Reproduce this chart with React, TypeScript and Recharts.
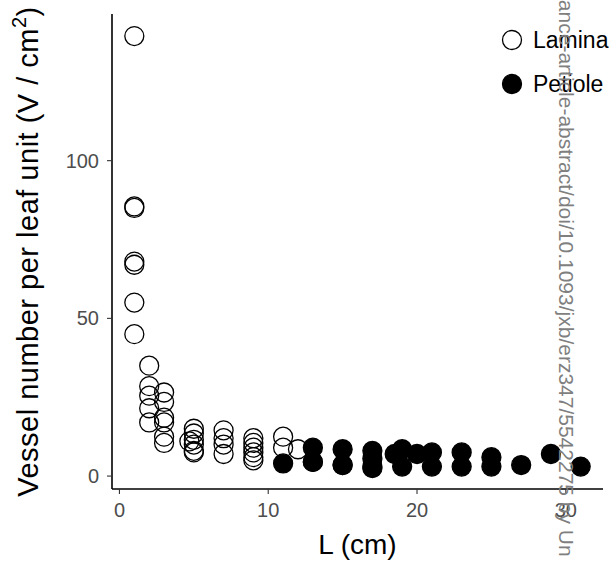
import React from 'react';
import { ScatterChart, Scatter, XAxis, YAxis, Legend } from 'recharts';

// leaf length L (cm) and vessel number per leaf unit (V/cm2)
const laminaL = [
  1, 1, 1, 1, 1, 1, 1,
  2, 2, 2, 2, 2,
  3, 3, 3, 3, 3, 3,
  5, 5, 5, 5, 5, 5, 4.7,
  7, 7, 7, 7,
  9, 9, 9, 9, 9, 9,
  11, 11, 12, 13, 15, 17,
];
const laminaV = [
  139.5, 85.5, 85, 68, 67, 55, 45,
  35, 28.5, 25.5, 21.5, 17,
  26.5, 23.5, 18.5, 17, 12.5, 10.5,
  15, 13.5, 11.5, 10, 8, 7.5, 11,
  14.5, 12, 10, 7,
  12, 10.5, 9, 7.5, 6, 5,
  12.5, 9, 8.5, 4.5, 3.5, 3,
];

const petioleL = [11, 13, 13, 15, 15, 17, 17, 17, 18.5, 19, 19, 20, 21, 21, 23, 23, 25, 25, 27, 29, 31];
const petioleV = [4, 9, 4.5, 8.5, 3.5, 8, 5.5, 2.5, 7, 8.5, 3, 7, 7.5, 3, 7.5, 3, 6, 3, 3.5, 7, 3];

const xTicks = [0, 10, 20, 30];
const yTicks = [0, 50, 100];

const lamina = laminaL.map((l, i) => ({ l, v: laminaV[i] }));
const petiole = petioleL.map((l, i) => ({ l, v: petioleV[i] }));

const FONT = '"Liberation Sans", Arial, sans-serif';
const R = 9.5;

const openDot = (p: any) => (
  <circle cx={p.cx} cy={p.cy} r={R} fill="none" stroke="#000" strokeWidth={1.3} />
);
const filledDot = (p: any) => (
  <circle cx={p.cx} cy={p.cy} r={R} fill="#000" stroke="#000" strokeWidth={1.3} />
);

const renderLegend = (props: any) => {
  const items = props.payload || [];
  return (
    <svg width={120} height={90} style={{ display: 'block' }}>
      {items.map((it: any, i: number) => (
        <g key={it.value}>
          <circle
            cx={17}
            cy={16 + i * 44}
            r={R}
            fill={i === 0 ? 'none' : '#000'}
            stroke="#000"
            strokeWidth={1.3}
          />
          <text x={38} y={24 + i * 44} fontFamily={FONT} fontSize={23} fill="#000">
            {it.value}
          </text>
        </g>
      ))}
    </svg>
  );
};

const YTitle = (props: any) => {
  const vb = props.viewBox || { x: 0, y: 14, width: 112, height: 475 };
  const cx = vb.x + 38;
  const cy = vb.y + vb.height / 2;
  return (
    <text
      x={cx}
      y={cy}
      transform={`rotate(-90, ${cx}, ${cy})`}
      textAnchor="middle"
      fontFamily={FONT}
      fontSize={29}
      letterSpacing={0.5}
      fill="#000"
    >
      Vessel number per leaf unit (V / cm
      <tspan dy={-12} fontSize={20}>2</tspan>
      <tspan dy={12}>)</tspan>
    </text>
  );
};

const XTitle = (props: any) => {
  const vb = props.viewBox || { x: 112, y: 489, width: 491, height: 74 };
  return (
    <text
      x={vb.x + vb.width / 2}
      y={vb.y + 65}
      textAnchor="middle"
      fontFamily={FONT}
      fontSize={28}
      fill="#000"
    >
      L (cm)
    </text>
  );
};

export default function App() {
  return (
    <div style={{ position: 'absolute', left: 0, top: 0, width: 615, height: 563, background: '#fff' }}>
      <ScatterChart width={615} height={563} margin={{ top: 14, right: 12, left: 0, bottom: 0 }}>
        <XAxis
          type="number"
          dataKey="l"
          domain={[-0.5, 32.5]}
          ticks={xTicks}
          allowDataOverflow
          height={74}
          axisLine={{ stroke: '#000', strokeWidth: 1.6 }}
          tickLine={{ stroke: '#333', strokeWidth: 1.1 }}
          tickSize={5}
          tickMargin={9}
          tick={{ fill: '#4d4d4d', fontSize: 20, fontFamily: FONT }}
          label={<XTitle />}
        />
        <YAxis
          type="number"
          dataKey="v"
          domain={[-4.1, 146.5]}
          ticks={yTicks}
          allowDataOverflow
          width={112}
          axisLine={{ stroke: '#000', strokeWidth: 1.6 }}
          tickLine={{ stroke: '#333', strokeWidth: 1.1 }}
          tickSize={5}
          tickMargin={8}
          tick={{ fill: '#4d4d4d', fontSize: 20, fontFamily: FONT }}
          label={<YTitle />}
        />
        <Legend
          layout="horizontal"
          verticalAlign="middle"
          align="center"
          content={renderLegend}
          wrapperStyle={{ position: 'absolute', left: 495, top: 24, width: 120, height: 90 }}
        />
        <Scatter name="Lamina" data={lamina} fill="none" stroke="#000" shape={openDot} isAnimationActive={false} />
        <Scatter name="Petiole" data={petiole} fill="#000" shape={filledDot} isAnimationActive={false} />
      </ScatterChart>
      <svg
        width={615}
        height={563}
        style={{ position: 'absolute', left: 0, top: 0, pointerEvents: 'none' }}
      >
        <text
          x={559}
          y={-34}
          transform="rotate(90, 559, -34)"
          fontFamily={FONT}
          fontSize={21}
          fill="#7f7f7f"
        >
          advance-article-abstract/doi/10.1093/jxb/erz347/5542275 by Un
        </text>
      </svg>
    </div>
  );
}
